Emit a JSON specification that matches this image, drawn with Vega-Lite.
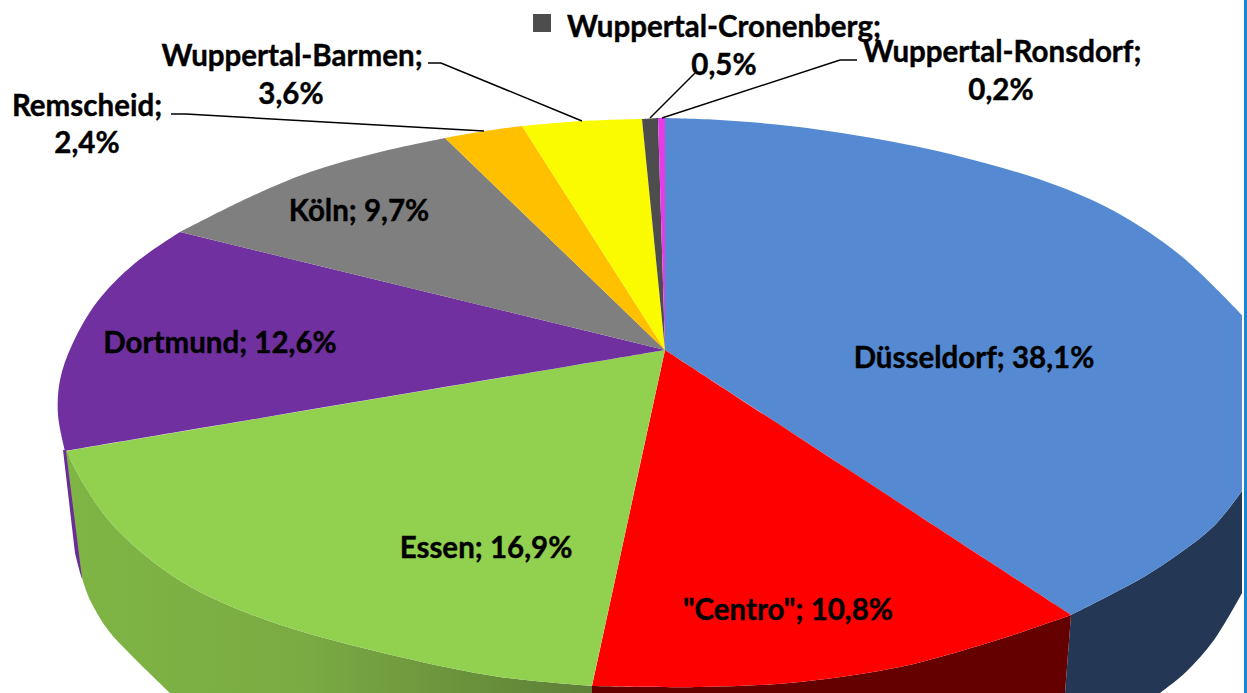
{"$schema":"https://vega.github.io/schema/vega-lite/v6.json","width":1247,"height":693,"padding":0,"autosize":"none","background":"white","view":{"stroke":null},
"datasets":{
"walls":[
{"part":"Dortmund Seite","i":0,"x":63,"y":450},{"part":"Dortmund Seite","i":1,"x":67,"y":451},{"part":"Dortmund Seite","i":2,"x":82,"y":578},{"part":"Dortmund Seite","i":3,"x":75,"y":553},
{"part":"Düsseldorf Seite","i":0,"x":1071,"y":615},{"part":"Düsseldorf Seite","i":1,"x":1071,"y":615},{"part":"Düsseldorf Seite","i":2,"x":1114,"y":593},{"part":"Düsseldorf Seite","i":3,"x":1147,"y":575},{"part":"Düsseldorf Seite","i":4,"x":1180,"y":553},{"part":"Düsseldorf Seite","i":5,"x":1214,"y":526},{"part":"Düsseldorf Seite","i":6,"x":1242,"y":491},{"part":"Düsseldorf Seite","i":7,"x":1242,"y":491},{"part":"Düsseldorf Seite","i":8,"x":1242,"y":593},{"part":"Düsseldorf Seite","i":9,"x":1242,"y":593},{"part":"Düsseldorf Seite","i":10,"x":1214,"y":640},{"part":"Düsseldorf Seite","i":11,"x":1186,"y":672},{"part":"Düsseldorf Seite","i":12,"x":1160,"y":693},{"part":"Düsseldorf Seite","i":13,"x":1160,"y":693},{"part":"Düsseldorf Seite","i":14,"x":1065,"y":693},
{"part":"Centro Seite","i":0,"x":1071,"y":615},{"part":"Centro Seite","i":1,"x":1071,"y":615},{"part":"Centro Seite","i":2,"x":1010,"y":636},{"part":"Centro Seite","i":3,"x":947,"y":655},{"part":"Centro Seite","i":4,"x":900,"y":667},{"part":"Centro Seite","i":5,"x":800,"y":682},{"part":"Centro Seite","i":6,"x":700,"y":687},{"part":"Centro Seite","i":7,"x":592,"y":686},{"part":"Centro Seite","i":8,"x":592,"y":686},{"part":"Centro Seite","i":9,"x":592,"y":693},{"part":"Centro Seite","i":10,"x":592,"y":693},{"part":"Centro Seite","i":11,"x":1065,"y":693}
],
"greenWall":[
{"part":"Essen Seite","i":0,"x":66,"y":451},{"part":"Essen Seite","i":1,"x":66,"y":451},{"part":"Essen Seite","i":2,"x":83,"y":483},{"part":"Essen Seite","i":3,"x":106,"y":517},{"part":"Essen Seite","i":4,"x":133,"y":545},{"part":"Essen Seite","i":5,"x":167,"y":572},{"part":"Essen Seite","i":6,"x":200,"y":592},{"part":"Essen Seite","i":7,"x":250,"y":614},{"part":"Essen Seite","i":8,"x":300,"y":631},{"part":"Essen Seite","i":9,"x":400,"y":657},{"part":"Essen Seite","i":10,"x":500,"y":677},{"part":"Essen Seite","i":11,"x":592,"y":686},{"part":"Essen Seite","i":12,"x":592,"y":686},{"part":"Essen Seite","i":13,"x":592,"y":693},{"part":"Essen Seite","i":14,"x":592,"y":693},{"part":"Essen Seite","i":15,"x":170,"y":693},{"part":"Essen Seite","i":16,"x":170,"y":693},{"part":"Essen Seite","i":17,"x":133,"y":657},{"part":"Essen Seite","i":18,"x":108,"y":630},{"part":"Essen Seite","i":19,"x":90,"y":600},{"part":"Essen Seite","i":20,"x":82,"y":578},{"part":"Essen Seite","i":21,"x":82,"y":578}
],
"faces":[
{"part":"Düsseldorf","i":0,"x":665,"y":350},{"part":"Düsseldorf","i":1,"x":665,"y":118},{"part":"Düsseldorf","i":2,"x":665,"y":118},{"part":"Düsseldorf","i":3,"x":720,"y":120},{"part":"Düsseldorf","i":4,"x":790,"y":126},{"part":"Düsseldorf","i":5,"x":860,"y":136},{"part":"Düsseldorf","i":6,"x":950,"y":154},{"part":"Düsseldorf","i":7,"x":1047,"y":182},{"part":"Düsseldorf","i":8,"x":1114,"y":211},{"part":"Düsseldorf","i":9,"x":1180,"y":255},{"part":"Düsseldorf","i":10,"x":1242,"y":315},{"part":"Düsseldorf","i":11,"x":1242,"y":315},{"part":"Düsseldorf","i":12,"x":1242,"y":491},{"part":"Düsseldorf","i":13,"x":1242,"y":491},{"part":"Düsseldorf","i":14,"x":1214,"y":526},{"part":"Düsseldorf","i":15,"x":1180,"y":553},{"part":"Düsseldorf","i":16,"x":1147,"y":575},{"part":"Düsseldorf","i":17,"x":1114,"y":593},{"part":"Düsseldorf","i":18,"x":1071,"y":615},{"part":"Düsseldorf","i":19,"x":1071,"y":615},
{"part":"Centro","i":0,"x":665,"y":350},{"part":"Centro","i":1,"x":1071,"y":615},{"part":"Centro","i":2,"x":1071,"y":615},{"part":"Centro","i":3,"x":1010,"y":636},{"part":"Centro","i":4,"x":947,"y":655},{"part":"Centro","i":5,"x":900,"y":667},{"part":"Centro","i":6,"x":800,"y":682},{"part":"Centro","i":7,"x":700,"y":687},{"part":"Centro","i":8,"x":592,"y":686},{"part":"Centro","i":9,"x":592,"y":686},
{"part":"Essen","i":0,"x":665,"y":350},{"part":"Essen","i":1,"x":592,"y":686},{"part":"Essen","i":2,"x":592,"y":686},{"part":"Essen","i":3,"x":500,"y":677},{"part":"Essen","i":4,"x":400,"y":657},{"part":"Essen","i":5,"x":300,"y":631},{"part":"Essen","i":6,"x":250,"y":614},{"part":"Essen","i":7,"x":200,"y":592},{"part":"Essen","i":8,"x":167,"y":572},{"part":"Essen","i":9,"x":133,"y":545},{"part":"Essen","i":10,"x":106,"y":517},{"part":"Essen","i":11,"x":83,"y":483},{"part":"Essen","i":12,"x":66,"y":451},{"part":"Essen","i":13,"x":66,"y":451},
{"part":"Dortmund","i":0,"x":665,"y":350},{"part":"Dortmund","i":1,"x":65,"y":451},{"part":"Dortmund","i":2,"x":65,"y":451},{"part":"Dortmund","i":3,"x":58,"y":415},{"part":"Dortmund","i":4,"x":60,"y":380},{"part":"Dortmund","i":5,"x":72,"y":345},{"part":"Dortmund","i":6,"x":97,"y":302},{"part":"Dortmund","i":7,"x":134,"y":264},{"part":"Dortmund","i":8,"x":180,"y":232},{"part":"Dortmund","i":9,"x":180,"y":232},
{"part":"Köln","i":0,"x":665,"y":350},{"part":"Köln","i":1,"x":180,"y":232},{"part":"Köln","i":2,"x":180,"y":232},{"part":"Köln","i":3,"x":250,"y":197},{"part":"Köln","i":4,"x":310,"y":172},{"part":"Köln","i":5,"x":380,"y":152},{"part":"Köln","i":6,"x":445,"y":138},{"part":"Köln","i":7,"x":445,"y":138},
{"part":"Remscheid","i":0,"x":665,"y":350},{"part":"Remscheid","i":1,"x":445,"y":138},{"part":"Remscheid","i":2,"x":445,"y":138},{"part":"Remscheid","i":3,"x":485,"y":131},{"part":"Remscheid","i":4,"x":522,"y":126},{"part":"Remscheid","i":5,"x":522,"y":126},
{"part":"Wuppertal-Barmen","i":0,"x":665,"y":350},{"part":"Wuppertal-Barmen","i":1,"x":522,"y":126},{"part":"Wuppertal-Barmen","i":2,"x":522,"y":126},{"part":"Wuppertal-Barmen","i":3,"x":582,"y":121},{"part":"Wuppertal-Barmen","i":4,"x":642,"y":119},{"part":"Wuppertal-Barmen","i":5,"x":642,"y":119},
{"part":"Wuppertal-Cronenberg","i":0,"x":665,"y":350},{"part":"Wuppertal-Cronenberg","i":1,"x":642,"y":119},{"part":"Wuppertal-Cronenberg","i":2,"x":642,"y":119},{"part":"Wuppertal-Cronenberg","i":3,"x":658,"y":118},{"part":"Wuppertal-Cronenberg","i":4,"x":658,"y":118},
{"part":"Wuppertal-Ronsdorf","i":0,"x":665,"y":350},{"part":"Wuppertal-Ronsdorf","i":1,"x":658,"y":118},{"part":"Wuppertal-Ronsdorf","i":2,"x":658,"y":118},{"part":"Wuppertal-Ronsdorf","i":3,"x":665,"y":118},{"part":"Wuppertal-Ronsdorf","i":4,"x":665,"y":118}
],
"leaders":[
{"leader":"Remscheid","i":0,"x":171,"y":114},{"leader":"Remscheid","i":1,"x":186,"y":114},{"leader":"Remscheid","i":2,"x":484,"y":131},
{"leader":"Wuppertal-Barmen","i":0,"x":428,"y":63},{"leader":"Wuppertal-Barmen","i":1,"x":441,"y":63},{"leader":"Wuppertal-Barmen","i":2,"x":582,"y":121},
{"leader":"Wuppertal-Cronenberg","i":0,"x":695,"y":73},{"leader":"Wuppertal-Cronenberg","i":1,"x":650,"y":118},
{"leader":"Wuppertal-Ronsdorf","i":0,"x":662,"y":118},{"leader":"Wuppertal-Ronsdorf","i":1,"x":840,"y":60},{"leader":"Wuppertal-Ronsdorf","i":2,"x":857,"y":60}
],
"frame":[{"i":0,"x":1245.5,"y":0},{"i":1,"x":1245.5,"y":693}],
"legendKey":[{"part":"Wuppertal-Cronenberg","x":542,"y":23}],
"labels":[
{"label":"Düsseldorf; 38,1%","x":974,"y":357},
{"label":"\"Centro\"; 10,8%","x":788,"y":609},
{"label":"Essen; 16,9%","x":486,"y":547},
{"label":"Dortmund; 12,6%","x":220,"y":342},
{"label":"Köln; 9,7%","x":359,"y":210},
{"label":"Remscheid;","x":87,"y":105},{"label":"2,4%","x":87,"y":142},
{"label":"Wuppertal-Barmen;","x":292,"y":55},{"label":"3,6%","x":291,"y":93},
{"label":"Wuppertal-Cronenberg;","x":724,"y":26},{"label":"0,5%","x":724,"y":64},
{"label":"Wuppertal-Ronsdorf;","x":1002,"y":51},{"label":"0,2%","x":1001,"y":89}
]},
"encoding":{
"x":{"field":"x","type":"quantitative","axis":null,"scale":{"domain":[0,1247],"nice":false,"zero":false}},
"y":{"field":"y","type":"quantitative","axis":null,"scale":{"domain":[0,693],"reverse":true,"nice":false,"zero":false}}
},
"layer":[
{"data":{"name":"walls"},"mark":{"type":"line","filled":true,"strokeWidth":0,"interpolate":"catmull-rom"},"encoding":{"order":{"field":"i","type":"quantitative"},"color":{"field":"part","type":"nominal","legend":null,"scale":{"domain":["Düsseldorf","Centro","Essen","Dortmund","Köln","Remscheid","Wuppertal-Barmen","Wuppertal-Cronenberg","Wuppertal-Ronsdorf","Düsseldorf Seite","Centro Seite","Dortmund Seite"],"range":["#558ad3","#ff0000","#92d050","#7030a0","#7f7f7f","#ffc000","#fbfb00","#4d4d4d","#e83be8","#243856","#640000","#6a2d98"]}}}},
{"data":{"name":"greenWall"},"mark":{"type":"line","filled":true,"strokeWidth":0,"interpolate":"catmull-rom","fill":{"gradient":"linear","x1":0,"y1":0,"x2":1,"y2":0,"stops":[{"offset":0,"color":"#7fb545"},{"offset":0.45,"color":"#7aab43"},{"offset":1,"color":"#5e7f37"}]}},"encoding":{"order":{"field":"i","type":"quantitative"},"detail":{"field":"part","type":"nominal"}}},
{"data":{"name":"faces"},"mark":{"type":"line","filled":true,"strokeWidth":0,"interpolate":"catmull-rom"},"encoding":{"order":{"field":"i","type":"quantitative"},"color":{"field":"part","type":"nominal","legend":null}}},
{"data":{"name":"leaders"},"mark":{"type":"line","color":"#000000","strokeWidth":1.5},"encoding":{"order":{"field":"i","type":"quantitative"},"detail":{"field":"leader","type":"nominal"}}},
{"data":{"name":"frame"},"mark":{"type":"line","color":"#1a86d0","strokeWidth":3},"encoding":{"order":{"field":"i","type":"quantitative"}}},
{"data":{"name":"legendKey"},"mark":{"type":"square","size":324,"color":"#4d4d4d","opacity":1,"filled":true}},
{"data":{"name":"labels"},"mark":{"type":"text","font":"Lato","fontWeight":"bold","fontSize":29.5,"color":"#000000","stroke":"#000000","strokeWidth":0.4,"align":"center","baseline":"middle","dy":2},"encoding":{"text":{"field":"label","type":"nominal"}}}
]}
